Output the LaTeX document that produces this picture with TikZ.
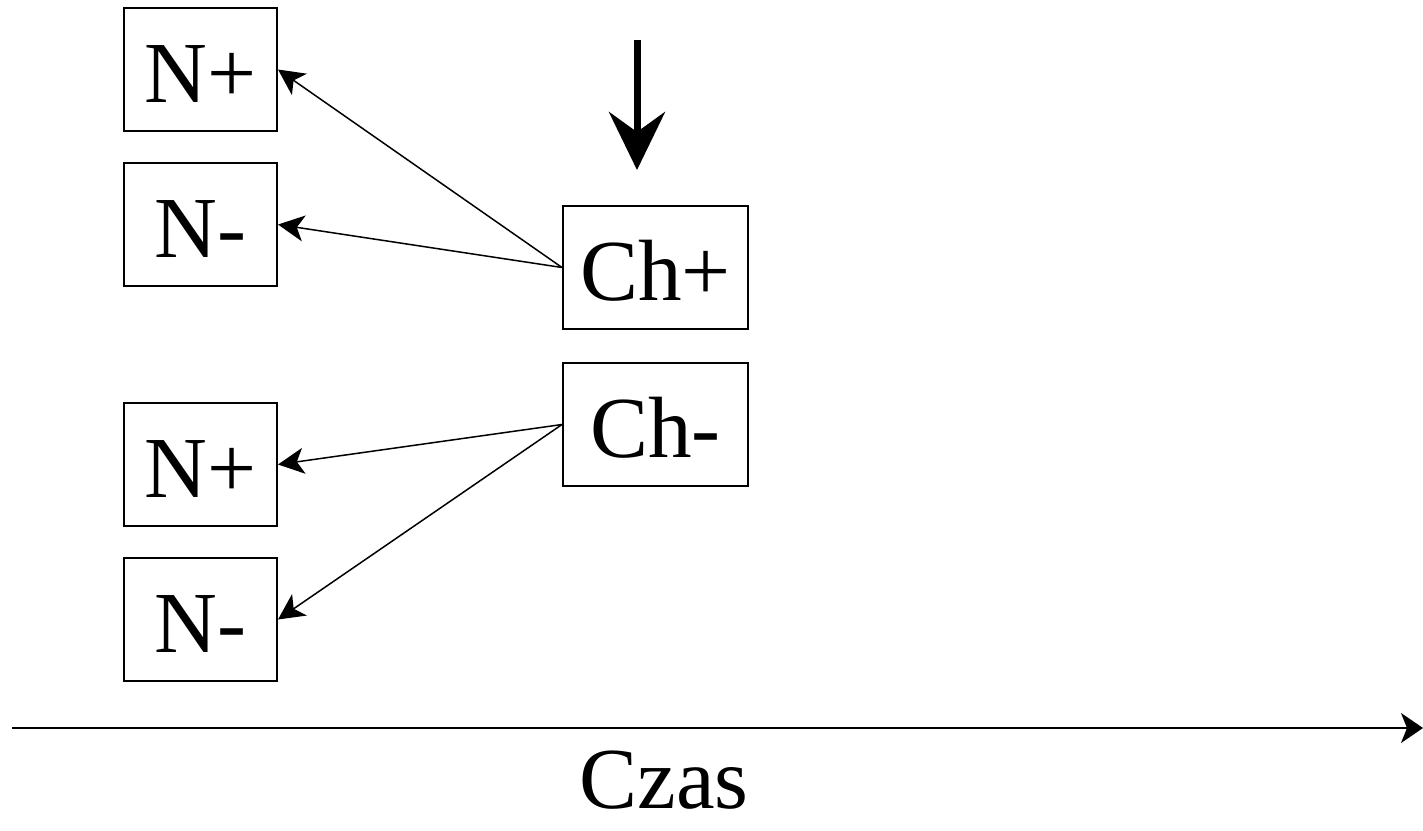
\documentclass[tikz,border=0pt]{standalone}
\usepackage{fontspec}
\setmainfont{Liberation Serif}
\usetikzlibrary{arrows.meta}
\usetikzlibrary{positioning}

\begin{document}
\begin{tikzpicture}[x=1pt,y=1pt,
		box/.style={draw, line width=1pt, minimum width=76.5pt, minimum height=61.5pt, inner sep=0pt, text height=32.5pt, text depth=0pt, font=\fontsize{43.5}{50}\selectfont},
		chbox/.style={box, minimum width=92.5pt},
		link/.style={line width=0.75pt, -{Stealth[length=13pt,width=13pt,inset=3.5pt]}}]
	\useasboundingbox (0,0) rectangle (711.5,-415);
	% draw boxes
	\node[box] (np1) at (100.25,-34.75) {N+};
	\node[box] (nm1) at (100.25,-112.25) {N-};
	\node[chbox] (chp) at (327.75,-133.75) {Ch+};
	\node[chbox] (chm) at (327.75,-212.25) {Ch-};
	\node[box] (np2) at (100.25,-232.25) {N+};
	\node[box] (nm2) at (100.25,-309.75) {N-};
	% draw links
	\draw[link] (chp.west) -- (np1.east);
	\draw[link] (chp.west) -- (nm1.east);
	\draw[link] (chm.west) -- (np2.east);
	\draw[link] (chm.west) -- (nm2.east);
	% thick arrow
	\coordinate (start) at (318.5,-20);
	\coordinate (stop) at (318.5,-85);
	\draw[line width=3.5pt, -{Stealth[length=29pt,width=28pt,inset=10pt]}] (start) -- (stop);
	% time axis
	\coordinate (t0) at (6,-364);
	\coordinate (t1) at (711.5,-364);
	\draw[line width=0.75pt, -{Stealth[length=11pt,width=15pt,inset=3pt]}] (t0) -- (t1);
	\node[font=\fontsize{43.5}{50}\selectfont, inner sep=0pt, text depth=0pt, anchor=base] (czas) at (332,-404) {Czas};
\end{tikzpicture}
\end{document}
